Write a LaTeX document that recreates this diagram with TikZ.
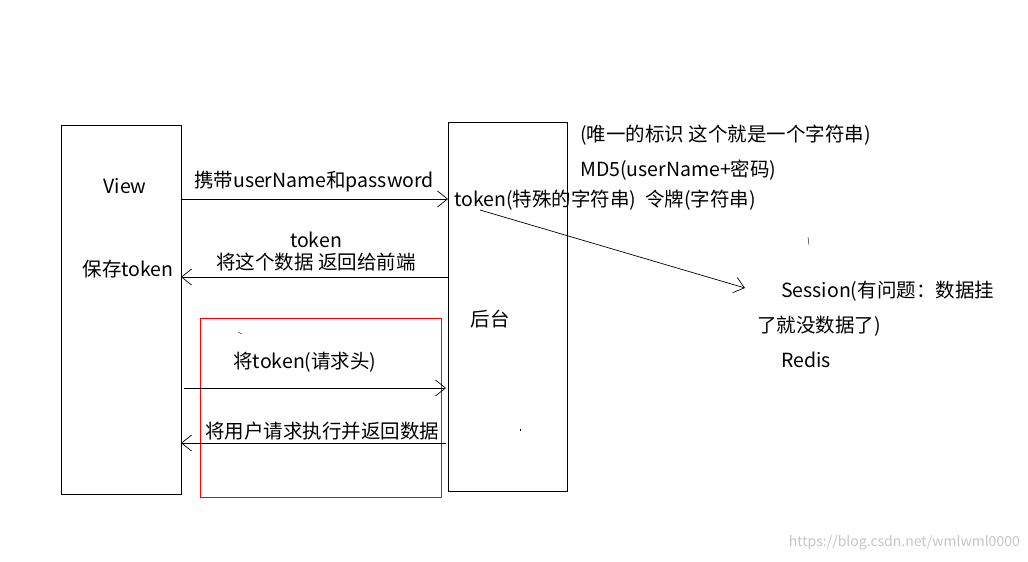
\documentclass[tikz,border=0pt]{standalone}
\usepackage{fontspec}
\setmainfont{Noto Sans CJK SC}
\usetikzlibrary{arrows.meta}
\begin{document}
\begin{tikzpicture}[x=1pt,y=-1pt,
  box/.style={draw,line width=0.8pt},
  lbl/.style={font=\fontsize{19.5}{22}\selectfont,inner sep=0pt},
  arr/.style={line width=0.7pt,-{Straight Barb[length=10pt,width=16pt]}}]
\useasboundingbox (0,0) rectangle (1028,562);
\fill[white] (0,0) rectangle (1028,562);
\draw[box] (61,125) rectangle (181,494);
\draw[box] (448,122) rectangle (567,491);
\draw[red,line width=0.6pt] (200,318) rectangle (441,497);
\coordinate (a1) at (181,199); \coordinate (b1) at (448,199);
\coordinate (a2) at (448,277); \coordinate (b2) at (181,277);
\coordinate (a3) at (184,388); \coordinate (b3) at (446,388);
\coordinate (a4) at (446,443); \coordinate (b4) at (181,443);
\coordinate (a5) at (480,210); \coordinate (b5) at (745,288);
\draw[arr] (a1) -- (b1);
\draw[arr] (a2) -- (b2);
\draw[arr] (a3) -- (b3);
\draw[arr] (a4) -- (b4);
\draw[arr] (a5) -- (b5);
\node[lbl] (v) at (125,186) {View};
\node[lbl] (s) at (128,269) {保存token};
\node[lbl] (h) at (490,319) {后台};
\node[lbl] (l1) at (314,182) {携带userName和password};
\node[lbl] (l2a) at (316,240) {token};
\node[lbl] (l2b) at (316,262) {将这个数据 返回给前端};
\node[lbl] (l3) at (305,362) {将token(请求头)};
\node[lbl] (l4) at (322,431) {将用户请求执行并返回数据};
\node[lbl,anchor=west] (t1) at (580,135) {(唯一的标识 这个就是一个字符串)};
\node[lbl,anchor=west] (t2) at (580,170) {MD5(userName+密码)};
\node[lbl,anchor=west] (t3) at (454,200) {token(特殊的字符串)\ \ 令牌(字符串)};
\node[lbl,anchor=west] (t4) at (781,291) {Session(有问题：数据挂};
\node[lbl,anchor=west] (t5) at (757,326) {了就没数据了)};
\node[lbl,anchor=west] (t6) at (781,360) {Redis};
\node[font=\fontsize{14}{16}\selectfont,text=gray!45,anchor=east,inner sep=0pt] (w) at (1020,543) {https://blog.csdn.net/wmlwml0000};
\draw (808,237) -- (809,245);
\draw (238,332) -- (242,334);
\draw (520,429) -- (520,431);
\end{tikzpicture}
\end{document}
